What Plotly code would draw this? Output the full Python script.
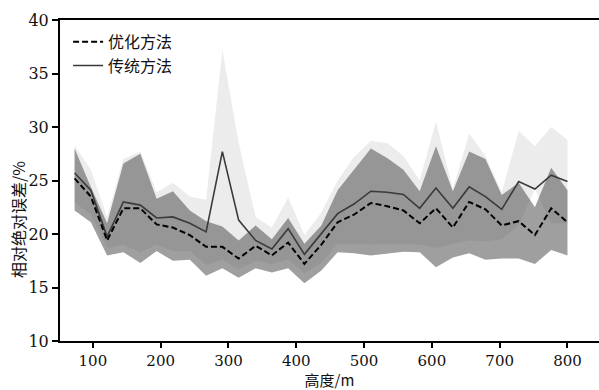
import plotly.graph_objects as go

heights = [73, 97, 121, 145, 170, 194, 218, 243, 267, 291, 315, 340, 364, 388, 412, 437,
           461, 485, 510, 534, 558, 582, 606, 631, 655, 679, 703, 728, 752, 776, 800]

opt_mean = [25.2, 23.5, 19.4, 22.4, 22.4, 20.9, 20.6, 19.9, 18.8, 18.8, 17.7, 18.9, 18.0, 19.2, 17.2, 19.0,
            21.1, 21.8, 22.9, 22.6, 22.2, 21.0, 22.4, 20.6, 23.0, 22.3, 20.8, 21.2, 19.9, 22.4, 21.1]
trad_mean = [25.7, 24.1, 19.75, 23.0, 22.7, 21.5, 21.6, 21.0, 20.2, 27.7, 21.3, 19.4, 18.6, 20.5, 18.1, 20.0,
             21.9, 22.8, 24.0, 23.9, 23.7, 22.4, 24.3, 22.4, 24.4, 23.5, 22.3, 24.9, 24.2, 25.5, 24.9]
opt_upper = [28.0, 24.4, 21.0, 26.6, 27.5, 23.3, 24.0, 22.2, 21.2, 20.7, 19.4, 20.8, 19.5, 21.5, 19.1, 20.8,
             24.1, 26.0, 28.0, 27.1, 26.0, 24.0, 28.2, 24.0, 27.7, 27.0, 23.65, 24.8, 22.5, 26.2, 24.1]
opt_lower = [22.2, 21.1, 18.0, 18.3, 17.3, 18.4, 17.5, 17.6, 16.1, 16.8, 15.9, 16.8, 16.4, 16.8, 15.4, 16.6,
             18.3, 18.2, 18.0, 18.2, 18.35, 18.3, 16.9, 17.8, 18.2, 17.6, 17.7, 17.7, 17.2, 18.5, 18.0]
trad_upper = [28.3, 26.0, 21.6, 27.0, 27.7, 23.9, 24.8, 23.5, 23.2, 37.2, 28.5, 21.6, 20.6, 23.4, 19.9, 22.0,
              25.0, 27.2, 28.7, 28.5, 27.3, 25.0, 30.5, 24.2, 29.4, 27.3, 23.9, 29.6, 28.2, 30.0, 28.8]
trad_lower = [23.0, 21.8, 18.7, 19.0, 18.3, 19.0, 18.4, 18.4, 17.1, 17.6, 16.7, 17.5, 17.2, 17.6, 16.3, 17.3,
              19.1, 19.1, 19.0, 19.1, 19.1, 19.0, 18.7, 19.1, 19.4, 19.3, 19.5, 20.8, 24.2, 21.0, 21.0]

x_ticks = [100, 200, 300, 400, 500, 600, 700, 800]
y_ticks = [10, 15, 20, 25, 30, 35, 40]

serif = "DejaVu Serif"
cjk = "Noto Sans CJK SC"

fig = go.Figure()

fig.add_trace(go.Scatter(
    x=heights + heights[::-1], y=trad_upper + trad_lower[::-1],
    fill="toself", fillcolor="rgb(236,236,236)", line=dict(width=0),
    mode="lines", showlegend=False, hoverinfo="skip"))

fig.add_trace(go.Scatter(
    x=heights + heights[::-1], y=opt_upper + opt_lower[::-1],
    fill="toself", fillcolor="rgba(80,80,80,0.55)", line=dict(width=0),
    mode="lines", showlegend=False, hoverinfo="skip"))

fig.add_trace(go.Scatter(
    x=heights, y=trad_mean, mode="lines", name="传统方法",
    line=dict(color="#3a3a3a", width=1.6), legendrank=2))

fig.add_trace(go.Scatter(
    x=heights, y=opt_mean, mode="lines", name="优化方法",
    line=dict(color="#000000", width=2, dash="6px,3px"), legendrank=1))

fig.add_annotation(
    text="相对绝对误差/%", textangle=-90, showarrow=False,
    xref="paper", yref="paper", x=-0.078, y=0.38, xanchor="center", yanchor="middle",
    font=dict(family=cjk, size=16, color="#111"))

fig.update_layout(
    width=599, height=390,
    margin=dict(l=60, r=0, t=20, b=49, autoexpand=False),
    paper_bgcolor="white", plot_bgcolor="white",
    showlegend=True,
    legend=dict(x=0.015, y=0.985, xanchor="left", yanchor="top",
                bgcolor="rgba(0,0,0,0)", font=dict(family=cjk, size=16, color="#111"),
                itemwidth=30, tracegroupgap=0),
    xaxis=dict(range=[51.5, 846.5], tickvals=x_ticks, ticktext=[str(v) for v in x_ticks],
               automargin=False,
               showline=True, linecolor="black", linewidth=2, mirror=True,
               ticks="outside", ticklen=5, tickwidth=1.5, tickcolor="black",
               showgrid=False, zeroline=False,
               tickfont=dict(family=serif, size=15, color="#111"),
               title=dict(text="高度/m", font=dict(family=cjk, size=15, color="#111"), standoff=2)),
    yaxis=dict(range=[10, 40], tickvals=y_ticks, ticktext=[str(v) for v in y_ticks],
               automargin=False,
               showline=True, linecolor="black", linewidth=2,
               ticks="outside", ticklen=6, tickwidth=1.5, tickcolor="black",
               showgrid=False, zeroline=False,
               tickfont=dict(family=serif, size=16, color="#111")),
)

fig.write_html("out.html", config={"displayModeBar": False},
               post_script="document.body.style.margin='0';document.body.style.padding='0';")
